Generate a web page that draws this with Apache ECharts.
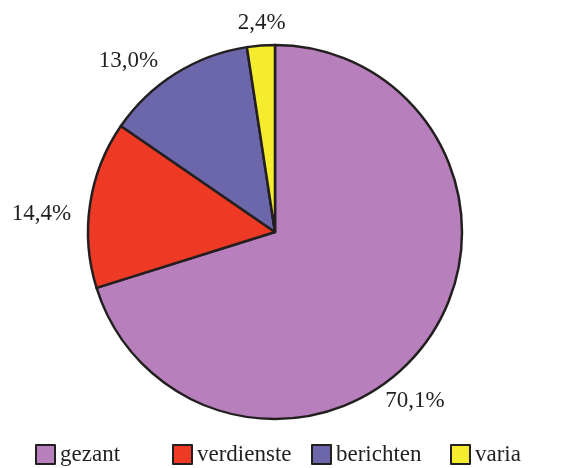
<!DOCTYPE html>
<html><head><meta charset="utf-8">
<script src="https://cdn.jsdelivr.net/npm/echarts@6/dist/echarts.min.js"></script>
<style>html,body{margin:0;padding:0;background:#fff}#c{width:580px;height:468px}</style>
</head><body><div id="c"></div>
<script>
var categories = ['gezant', 'verdienste', 'berichten', 'varia'];
var values = [70.1, 14.4, 13.0, 2.4];
var labels = ['70,1%', '14,4%', '13,0%', '2,4%'];
var colors = ['#B77FBB', '#EE3A24', '#6C66AA', '#F4EC2C'];

var FONT = '"Liberation Serif", "DejaVu Serif", serif';
var labelShift = [[-60, 48], [4, 12], [-3, 3], [31, -5]];
var legendLeft = [35, 172, 311, 450];

var chart = echarts.init(document.getElementById('c'), null, {renderer: 'canvas'});
var data = categories.map(function (c, i) {
  return {name: c, value: values[i], itemStyle: {color: colors[i]}};
});
var legends = categories.map(function (c, i) {
  return {
    data: [c], left: legendLeft[i], top: 443, orient: 'horizontal', padding: 0,
    icon: 'rect', itemWidth: 19, itemHeight: 19,
    itemStyle: {borderColor: '#231F20', borderWidth: 2},
    textStyle: {fontFamily: FONT, fontSize: 23, color: '#231F20'},
    selectedMode: false
  };
});
chart.setOption({
  animation: false,
  legend: legends,
  series: [{
    type: 'pie', center: [275, 232], radius: 187, startAngle: 90, clockwise: true,
    data: data,
    itemStyle: {borderColor: '#231F20', borderWidth: 2.5},
    label: {
      show: true, position: 'outside', fontFamily: FONT, fontSize: 23, color: '#231F20',
      overflow: 'none',
      formatter: function (p) { return labels[p.dataIndex]; }
    },
    labelLine: {show: false, length: 18, length2: 0},
    labelLayout: function (p) {
      var s = labelShift[p.dataIndex];
      return {dx: s[0], dy: s[1]};
    }
  }]
});
</script></body></html>
